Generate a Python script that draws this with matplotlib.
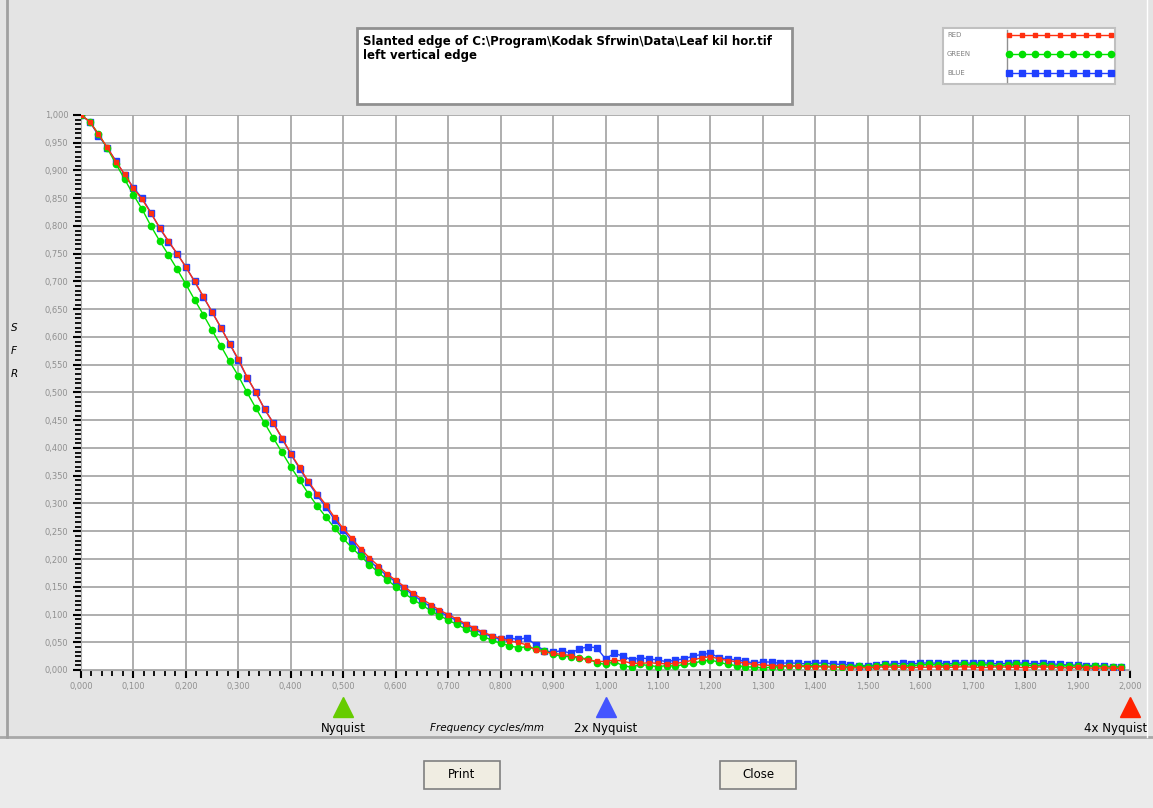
import numpy as np
import matplotlib
matplotlib.use('Agg')
import matplotlib.pyplot as plt
from matplotlib.ticker import MultipleLocator, FuncFormatter
from matplotlib.patches import Rectangle

# frequency samples, cycles/mm (step 1/60)
freq = np.arange(120) / 60.0

red = [1.000, 0.988, 0.965, 0.942, 0.916, 0.893, 0.868, 0.848, 0.823, 0.797,
       0.773, 0.750, 0.726, 0.700, 0.673, 0.645, 0.617, 0.588, 0.560, 0.528,
       0.500, 0.470, 0.445, 0.418, 0.390, 0.365, 0.340, 0.318, 0.298, 0.275,
       0.255, 0.237, 0.218, 0.202, 0.188, 0.173, 0.162, 0.150, 0.138, 0.128,
       0.118, 0.108, 0.100, 0.092, 0.083, 0.076, 0.068, 0.062, 0.057, 0.052,
       0.050, 0.045, 0.036, 0.033, 0.030, 0.028, 0.026, 0.022, 0.018, 0.016,
       0.015, 0.018, 0.016, 0.012, 0.012, 0.013, 0.012, 0.011, 0.012, 0.014,
       0.018, 0.022, 0.024, 0.020, 0.017, 0.015, 0.012, 0.010, 0.009, 0.008,
       0.008, 0.007, 0.007, 0.006, 0.006, 0.006, 0.005, 0.005, 0.004, 0.004,
       0.004, 0.005, 0.006, 0.005, 0.005, 0.004, 0.005, 0.005, 0.006, 0.005,
       0.005, 0.006, 0.005, 0.004, 0.005, 0.006, 0.005, 0.005, 0.004, 0.005,
       0.006, 0.005, 0.004, 0.004, 0.005, 0.004, 0.003, 0.004, 0.003, 0.003]

green = [1.000, 0.988, 0.966, 0.940, 0.912, 0.884, 0.856, 0.830, 0.800, 0.773,
         0.748, 0.722, 0.695, 0.667, 0.640, 0.612, 0.584, 0.556, 0.530, 0.500,
         0.472, 0.445, 0.418, 0.392, 0.366, 0.342, 0.318, 0.296, 0.276, 0.256,
         0.237, 0.220, 0.205, 0.190, 0.176, 0.163, 0.150, 0.138, 0.127, 0.117,
         0.107, 0.098, 0.090, 0.082, 0.074, 0.067, 0.060, 0.054, 0.048, 0.044,
         0.040, 0.042, 0.038, 0.035, 0.028, 0.025, 0.024, 0.022, 0.020, 0.013,
         0.010, 0.015, 0.008, 0.005, 0.010, 0.008, 0.006, 0.008, 0.007, 0.010,
         0.012, 0.016, 0.018, 0.014, 0.010, 0.008, 0.006, 0.005, 0.004, 0.005,
         0.006, 0.007, 0.007, 0.008, 0.008, 0.007, 0.006, 0.005, 0.006, 0.007,
         0.006, 0.008, 0.009, 0.008, 0.007, 0.008, 0.009, 0.010, 0.009, 0.008,
         0.009, 0.010, 0.009, 0.010, 0.009, 0.008, 0.009, 0.010, 0.009, 0.008,
         0.009, 0.008, 0.007, 0.008, 0.007, 0.006, 0.007, 0.006, 0.005, 0.005]

blue = [1.000, 0.988, 0.963, 0.941, 0.917, 0.892, 0.869, 0.850, 0.824, 0.796,
        0.772, 0.750, 0.726, 0.700, 0.672, 0.645, 0.617, 0.588, 0.558, 0.527,
        0.500, 0.470, 0.445, 0.417, 0.389, 0.363, 0.338, 0.315, 0.294, 0.271,
        0.252, 0.232, 0.213, 0.197, 0.183, 0.170, 0.159, 0.147, 0.135, 0.124,
        0.114, 0.105, 0.097, 0.089, 0.081, 0.073, 0.066, 0.060, 0.055, 0.058,
        0.055, 0.058, 0.045, 0.035, 0.032, 0.035, 0.030, 0.038, 0.042, 0.040,
        0.020, 0.030, 0.025, 0.018, 0.022, 0.020, 0.018, 0.015, 0.018, 0.020,
        0.025, 0.028, 0.030, 0.022, 0.020, 0.018, 0.016, 0.012, 0.015, 0.014,
        0.012, 0.013, 0.012, 0.011, 0.012, 0.013, 0.011, 0.010, 0.009, 0.008,
        0.008, 0.009, 0.010, 0.011, 0.012, 0.011, 0.012, 0.013, 0.012, 0.011,
        0.012, 0.013, 0.012, 0.013, 0.012, 0.011, 0.012, 0.013, 0.012, 0.011,
        0.012, 0.011, 0.010, 0.009, 0.009, 0.008, 0.008, 0.007, 0.006, 0.006]

bg = '#e4e4e4'
fig = plt.figure(figsize=(11.53, 8.08), dpi=100, facecolor=bg)

# bottom button panel
fig.patches.append(Rectangle((0, 0), 1, 1 - 738 / 808, transform=fig.transFigure,
                             facecolor='#ebebeb', edgecolor='none', zorder=0))
fig.lines.append(plt.Line2D([0, 1], [1 - 737 / 808] * 2, transform=fig.transFigure,
                            color='#a8a8a8', lw=2))
fig.lines.append(plt.Line2D([7 / 1153] * 2, [1 - 737 / 808, 1], transform=fig.transFigure,
                            color='#a0a0a0', lw=2))
fig.lines.append(plt.Line2D([1147 / 1153] * 2, [1 - 737 / 808, 1], transform=fig.transFigure,
                            color='#ffffff', lw=1))

ax = fig.add_axes([81 / 1153, 1 - 670 / 808, 1049 / 1153, 555 / 808])
ax.set_facecolor('white')

ax.plot(freq, blue, color='#1f3fff', lw=1, marker='s', ms=4.2, mec='#1f3fff', zorder=3)
ax.plot(freq, green, color='#00e000', lw=1, marker='o', ms=4.5, mec='#00e000', zorder=4)
ax.plot(freq, red, color='#ff3010', lw=1, marker='s', ms=2.4, mec='#ff3010', zorder=5)

ax.set_xlim(0, 2.0)
ax.set_ylim(0, 1.0)
ax.xaxis.set_major_locator(MultipleLocator(0.1))
ax.xaxis.set_minor_locator(MultipleLocator(0.02))
ax.yaxis.set_major_locator(MultipleLocator(0.05))
ax.yaxis.set_minor_locator(MultipleLocator(0.05 / 6))
fmt = FuncFormatter(lambda v, p: f'{v:.3f}'.replace('.', ','))
ax.xaxis.set_major_formatter(fmt)
ax.yaxis.set_major_formatter(fmt)
ax.grid(True, which='major', color='#a8a8a8', lw=1.3)
ax.set_axisbelow(True)
ax.tick_params(which='major', length=6, width=1.5, color='black',
               labelsize=6, labelcolor='#909090', pad=3)
ax.tick_params(which='minor', length=4, width=1.3, color='black')
for s in ['top', 'right']:
    ax.spines[s].set_visible(False)
ax.spines['left'].set_color('#a8a8a8')
ax.spines['bottom'].set_color('#a8a8a8')

# Nyquist markers under the axis
tr = ax.get_xaxis_transform()
for xv, col, lab, ha in [(0.5, '#66cc00', 'Nyquist', 'center'),
                         (1.0, '#4455ff', '2x Nyquist', 'center'),
                         (2.0, '#ff2200', '4x Nyquist', 'right')]:
    ax.plot([xv], [-0.067], marker='^', ms=14, color=col, transform=tr, clip_on=False)
    xt = xv + 0.032 if ha == 'right' else xv
    ax.text(xt, -0.105, lab, transform=tr, ha=ha, va='center', fontsize=8.5)

ax.text(0.775, -0.105, 'Frequency cycles/mm', transform=tr, ha='center', va='center',
        fontsize=7.5, style='italic')

for i, ch in enumerate('SFR'):
    fig.text(14 / 1153, 1 - (328 + 23 * i) / 808, ch, fontsize=7.5, style='italic',
             ha='center', va='center')

# title box
fig.patches.append(Rectangle((357 / 1153, 1 - 104 / 808), 435 / 1153, 76 / 808,
                             transform=fig.transFigure, facecolor='white',
                             edgecolor='#909090', lw=2))
fig.text(363 / 1153, 1 - 41 / 808,
         'Slanted edge of C:\\Program\\Kodak Sfrwin\\Data\\Leaf kil hor.tif',
         fontsize=8.5, weight='bold', va='center')
fig.text(363 / 1153, 1 - 56 / 808, 'left vertical edge',
         fontsize=8.5, weight='bold', va='center')

# legend box
fig.patches.append(Rectangle((943 / 1153, 1 - 84 / 808), 172 / 1153, 56 / 808,
                             transform=fig.transFigure, facecolor='white',
                             edgecolor='#c0c0c0', lw=1.5))
fig.lines.append(plt.Line2D([1007 / 1153] * 2, [1 - 82 / 808, 1 - 30 / 808],
                            transform=fig.transFigure, color='#909090', lw=1))
lx = np.linspace(1009, 1111, 9) / 1153
for yy, name, col, mk, ms in [(35, 'RED', '#ff3010', 's', 2.4),
                              (54, 'GREEN', '#00e000', 'o', 4.5),
                              (73, 'BLUE', '#1f3fff', 's', 4.2)]:
    fig.lines.append(plt.Line2D(lx, [1 - yy / 808] * len(lx), transform=fig.transFigure,
                                color=col, lw=1, marker=mk, ms=ms, mec=col))
    fig.text(947 / 1153, 1 - yy / 808, name, fontsize=5, color='#808080', va='center')

# buttons
for cx, lab in [(462, 'Print'), (758, 'Close')]:
    fig.patches.append(Rectangle(((cx - 38) / 1153, 1 - 789 / 808), 76 / 1153, 28 / 808,
                                 transform=fig.transFigure, facecolor='#f0ede2',
                                 edgecolor='#808080', lw=1.2))
    fig.text(cx / 1153, 1 - 775 / 808, lab, fontsize=8.5, ha='center', va='center')

fig.savefig('out.png', dpi=100, facecolor=bg)
